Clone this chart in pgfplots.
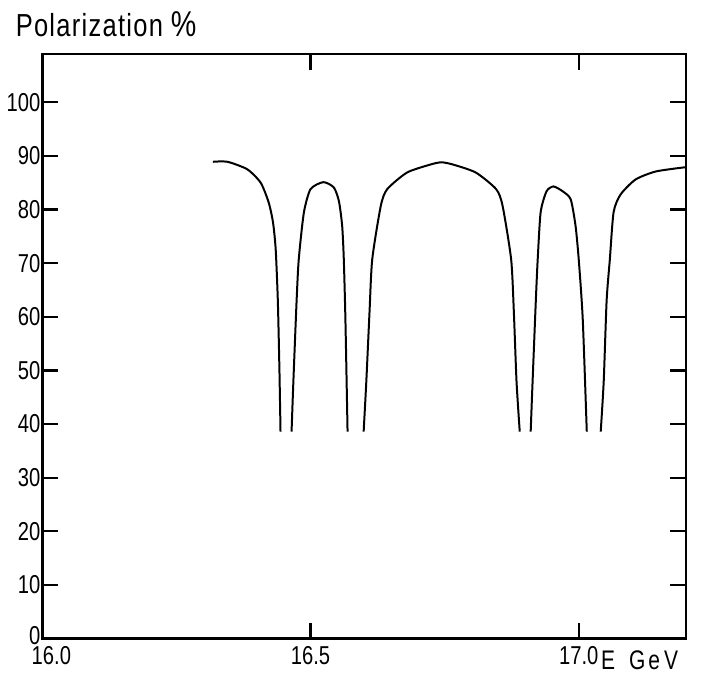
\documentclass[border=0pt]{standalone}
\usepackage{pgfplots}
\pgfplotsset{compat=1.18}
\usepackage{fontspec}
\setmainfont[FakeStretch=0.78]{Liberation Sans}
\newfontfamily\titlefont[FakeStretch=0.8, LetterSpace=4]{Liberation Sans}
\begin{document}
\begin{tikzpicture}
\begin{axis}[
  scale only axis,
  width=322bp, height=292.5bp,
  xmin=16.0, xmax=17.2, ymin=0, ymax=109,
  axis line style={line width=1.4pt},
  xtick={16.0,16.5,17.0},
  xticklabels={\hspace*{9bp}16.0,16.5,17.0},
  ytick={0,10,20,30,40,50,60,70,80,90,100},
  yticklabels={\raisebox{3bp}{0},10,20,30,40,50,60,70,80,90,100},
  tick align=inside,
  major tick length=8bp,
  tick style={line width=1.1pt, black},
  xtick pos=both, ytick pos=both,
  xticklabel pos=bottom, yticklabel pos=left,
  ticklabel style={font=\fontsize{13}{15}\selectfont},
  /pgf/number format/assume math mode=true,
  yticklabel style={xshift=2.5bp},
  xticklabel style={yshift=-0.5bp},
  clip=false,
]
\path[draw=none] ([xshift=-21bp,yshift=-25bp]rel axis cs:0,0) rectangle ([xshift=331bp,yshift=319.5bp]rel axis cs:0,0);
\addplot[black, line width=1pt, smooth, tension=0.4] coordinates {
(16.318,88.9) (16.345,88.9) (16.382,87.5) (16.407,85.0) (16.422,81.3)
(16.430,77.6) (16.435,72.6) (16.439,63) (16.442,50) (16.444,38.6)};
\addplot[black, line width=1pt, smooth, tension=0.4] coordinates {
(16.4646,38.6) (16.468,48) (16.474,63) (16.478,70.7) (16.4875,79.4)
(16.500,83.8) (16.524,85.1) (16.5435,84.1) (16.553,81.5) (16.559,76.9)
(16.562,70.7) (16.565,59.5) (16.569,38.6)};
\addplot[black, line width=1pt, smooth, tension=0.4] coordinates {
(16.599,38.6) (16.604,48) (16.610,61) (16.615,70.7) (16.631,80.7)
(16.643,83.8) (16.680,86.9) (16.724,88.4) (16.744,88.8) (16.765,88.4)
(16.808,86.9) (16.846,83.8) (16.858,80.7) (16.874,70.7) (16.879,61)
(16.884,48) (16.890,38.6)};
\addplot[black, line width=1pt, smooth, tension=0.4] coordinates {
(16.9104,38.6) (16.914,48) (16.920,63) (16.9235,70.7) (16.929,79.5)
(16.940,83.4) (16.953,84.3) (16.970,83.4) (16.985,81.9) (16.994,77)
(17.000,70.7) (17.0075,59.5) (17.015,38.6)};
\addplot[black, line width=1pt, smooth, tension=0.4] coordinates {
(17.041,38.6) (17.0466,48) (17.052,63) (17.058,70.7) (17.065,79.5)
(17.078,82.8) (17.106,85.6) (17.144,87.1) (17.2,87.9)};
\node[anchor=base west, font=\fontsize{16}{18}\selectfont, inner sep=0pt]
  at ([xshift=-13.5bp, yshift=8.5bp]rel axis cs:0,1) {\titlefont Polarization\kern4bp{\fontsize{18}{20}\selectfont\%}};
\node[anchor=base west, font=\fontsize{13.5}{15}\selectfont, inner sep=0pt]
  at ([yshift=-15.5bp]axis cs:17.041,0) {E\kern7bp G\kern1.5bp e\kern2bp V};
\end{axis}
\end{tikzpicture}
\end{document}
